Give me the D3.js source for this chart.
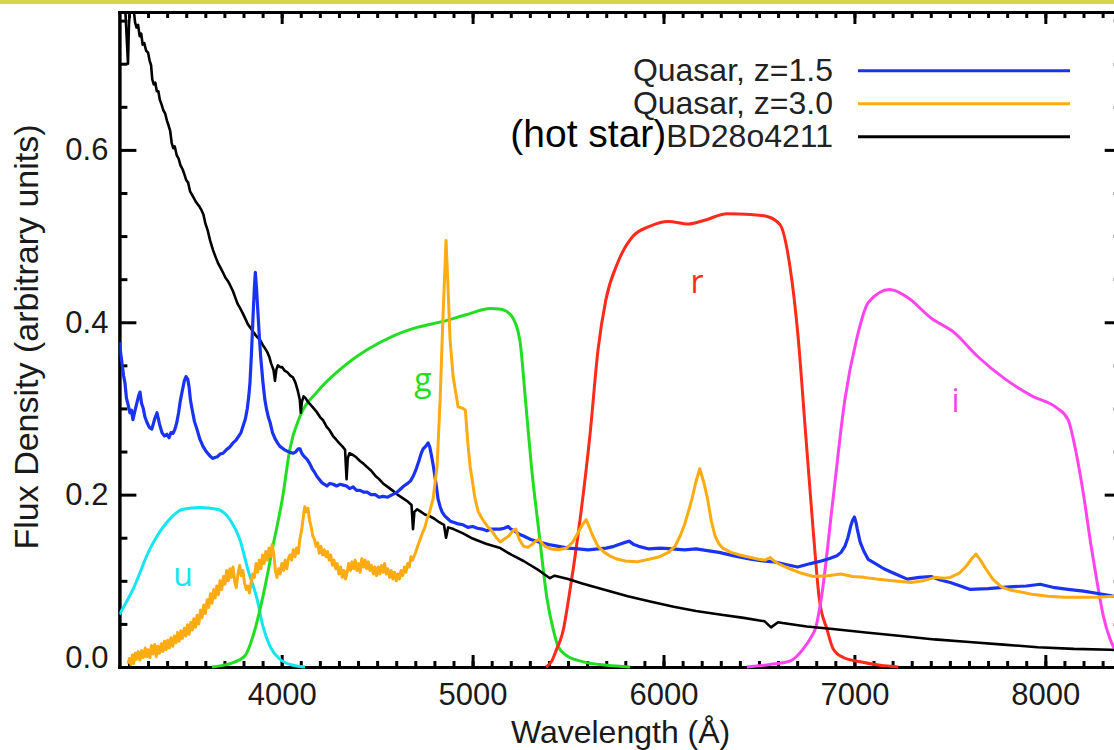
<!DOCTYPE html>
<meta charset="utf-8">
<style>
  body { margin: 0; background: #fff; }
  svg { display: block; font-family: "Liberation Sans", Arial, sans-serif; }
  .axis path, .axis line { stroke: #000; stroke-width: 3; }
  .axis path { stroke-linecap: square; }
  .axis text { font-size: 31px; fill: #1a1a1a; font-family: "Liberation Sans", Arial, sans-serif; }
  .curve { fill: none; stroke-linejoin: round; }
  .flabel { font-family: "Open Sans", sans-serif; font-size: 32px; text-anchor: middle; dominant-baseline: central; }
</style>
<script src="https://d3js.org/d3.v7.min.js"></script>
<svg id="chart" width="1114" height="750"></svg>
<script>

// ---- data: [wavelength (A), flux] ----
var uFilter = [[3150,0.061],[3221,0.09],[3310,0.137],[3399,0.168],[3483,0.183],[3572,0.185],[3661,0.183],[3729,0.171],[3781,0.148],[3823,0.113],[3871,0.079],[3902,0.047],[3939,0.024],[3991,0.009],[4059,0.002],[4122,0]];

var gFilter = [[3635,0],[3745,0.005],[3808,0.013],[3850,0.036],[3902,0.082],[3954,0.14],[4005,0.197],[4043,0.253],[4096,0.291],[4185,0.319],[4305,0.345],[4447,0.368],[4583,0.384],[4709,0.394],[4845,0.401],[4971,0.409],[5092,0.416],[5150,0.415],[5205,0.407],[5247,0.38],[5277,0.31],[5308,0.233],[5348,0.156],[5390,0.079],[5422,0.044],[5448,0.024],[5493,0.013],[5580,0.006],[5703,0.002],[5825,0]];

var rFilter = [[5385,0],[5415,0.007],[5441,0.021],[5467,0.036],[5476,0.044],[5503,0.079],[5554,0.156],[5616,0.272],[5657,0.368],[5698,0.426],[5760,0.469],[5841,0.5],[5924,0.511],[6026,0.517],[6130,0.514],[6211,0.518],[6333,0.526],[6457,0.525],[6538,0.523],[6611,0.513],[6662,0.465],[6703,0.388],[6744,0.272],[6785,0.156],[6816,0.079],[6856,0.044],[6889,0.021],[6942,0.011],[7030,0.006],[7135,0.002],[7230,0]];

var iFilter = [[6437,0],[6559,0.003],[6664,0.007],[6732,0.021],[6777,0.036],[6795,0.044],[6826,0.079],[6888,0.195],[6950,0.31],[7011,0.38],[7073,0.423],[7185,0.438],[7277,0.429],[7401,0.405],[7523,0.388],[7647,0.36],[7790,0.334],[7934,0.314],[8058,0.301],[8119,0.287],[8160,0.25],[8200,0.2],[8240,0.14],[8270,0.1],[8304,0.059],[8340,0.032],[8370,0.018],[8400,0.01]];

var hotStar = [[3150,0.78],[3165,0.77],[3178,0.775],[3186,0.74],[3195,0.70],[3200,0.745],[3208,0.772],[3216,0.76],[3224,0.765],[3232,0.748],[3240,0.742],[3248,0.745],[3256,0.732],[3264,0.735],[3272,0.722],[3280,0.724],[3290,0.715],[3300,0.713],[3308,0.704],[3316,0.698],[3322,0.682],[3330,0.676],[3338,0.678],[3346,0.668],[3354,0.668],[3362,0.658],[3372,0.652],[3380,0.646],[3390,0.642],[3399,0.634],[3408,0.628],[3416,0.622],[3424,0.608],[3432,0.602],[3440,0.604],[3450,0.594],[3460,0.59],[3470,0.582],[3480,0.578],[3490,0.572],[3500,0.565],[3510,0.562],[3520,0.552],[3530,0.548],[3540,0.544],[3550,0.54],[3560,0.537],[3570,0.534],[3580,0.53],[3590,0.525],[3600,0.515],[3612,0.507],[3625,0.495],[3640,0.484],[3655,0.475],[3668,0.468],[3680,0.463],[3692,0.458],[3705,0.452],[3718,0.448],[3730,0.443],[3745,0.436],[3758,0.428],[3770,0.421],[3783,0.416],[3797,0.41],[3810,0.404],[3822,0.398],[3835,0.394],[3848,0.39],[3860,0.386],[3871,0.383],[3885,0.38],[3900,0.374],[3912,0.37],[3923,0.366],[3935,0.36],[3945,0.352],[3957,0.345],[3965,0.332],[3972,0.345],[3980,0.35],[3992,0.348],[4002,0.348],[4015,0.344],[4030,0.342],[4045,0.338],[4059,0.336],[4072,0.33],[4085,0.32],[4095,0.31],[4100,0.295],[4106,0.308],[4115,0.314],[4125,0.312],[4140,0.307],[4160,0.302],[4180,0.297],[4201,0.29],[4218,0.286],[4235,0.279],[4250,0.275],[4269,0.268],[4285,0.264],[4300,0.26],[4318,0.256],[4332,0.252],[4340,0.218],[4346,0.242],[4355,0.248],[4374,0.246],[4392,0.243],[4410,0.239],[4428,0.236],[4447,0.232],[4468,0.228],[4490,0.222],[4510,0.218],[4531,0.213],[4555,0.209],[4580,0.205],[4600,0.201],[4620,0.198],[4640,0.195],[4660,0.192],[4680,0.188],[4688,0.16],[4695,0.18],[4710,0.183],[4730,0.18],[4750,0.177],[4775,0.175],[4800,0.172],[4825,0.168],[4850,0.165],[4861,0.15],[4872,0.162],[4900,0.16],[4950,0.155],[5000,0.149],[5070,0.143],[5145,0.138],[5205,0.13],[5267,0.123],[5348,0.112],[5405,0.103],[5430,0.106],[5500,0.102],[5574,0.097],[5700,0.089],[5813,0.082],[5930,0.076],[6053,0.07],[6170,0.065],[6294,0.061],[6420,0.057],[6530,0.053],[6563,0.046],[6600,0.052],[6624,0.051],[6750,0.047],[6887,0.044],[7060,0.04],[7245,0.036],[7420,0.032],[7601,0.029],[7780,0.026],[7960,0.023],[8150,0.021],[8342,0.02],[8400,0.019]];

var quasar15 = [[3150,0.377],[3158,0.362],[3165,0.35],[3172,0.338],[3179,0.33],[3187,0.312],[3195,0.305],[3205,0.295],[3213,0.298],[3221,0.287],[3230,0.296],[3240,0.305],[3250,0.314],[3258,0.319],[3266,0.306],[3275,0.3],[3284,0.29],[3294,0.284],[3307,0.278],[3320,0.276],[3335,0.288],[3347,0.295],[3360,0.282],[3373,0.272],[3386,0.268],[3399,0.27],[3410,0.266],[3420,0.272],[3431,0.271],[3441,0.276],[3451,0.284],[3460,0.295],[3470,0.31],[3478,0.319],[3490,0.332],[3499,0.337],[3508,0.334],[3515,0.325],[3522,0.31],[3530,0.3],[3543,0.285],[3556,0.276],[3572,0.264],[3588,0.256],[3605,0.25],[3624,0.245],[3638,0.242],[3650,0.243],[3664,0.244],[3677,0.247],[3693,0.248],[3710,0.252],[3727,0.255],[3745,0.26],[3760,0.263],[3775,0.268],[3787,0.272],[3797,0.279],[3810,0.288],[3820,0.3],[3828,0.315],[3834,0.33],[3842,0.365],[3850,0.407],[3857,0.44],[3862,0.458],[3868,0.44],[3876,0.41],[3884,0.38],[3890,0.36],[3896,0.345],[3902,0.33],[3912,0.31],[3920,0.3],[3930,0.29],[3939,0.284],[3952,0.272],[3965,0.265],[3978,0.26],[3991,0.256],[4015,0.252],[4043,0.249],[4060,0.248],[4075,0.25],[4086,0.253],[4096,0.253],[4105,0.248],[4115,0.245],[4133,0.241],[4147,0.236],[4160,0.23],[4172,0.226],[4185,0.221],[4210,0.214],[4237,0.21],[4252,0.213],[4270,0.212],[4288,0.21],[4305,0.212],[4322,0.211],[4340,0.21],[4356,0.207],[4374,0.209],[4392,0.205],[4410,0.205],[4428,0.203],[4447,0.203],[4468,0.2],[4490,0.2],[4510,0.197],[4531,0.198],[4555,0.197],[4580,0.2],[4600,0.202],[4620,0.206],[4640,0.21],[4660,0.213],[4675,0.216],[4688,0.221],[4705,0.23],[4720,0.24],[4731,0.248],[4741,0.253],[4754,0.256],[4767,0.26],[4776,0.255],[4785,0.245],[4793,0.235],[4800,0.225],[4810,0.21],[4819,0.195],[4830,0.186],[4840,0.18],[4855,0.175],[4870,0.172],[4885,0.169],[4900,0.168],[4925,0.166],[4950,0.165],[4975,0.162],[5000,0.163],[5025,0.161],[5050,0.16],[5075,0.158],[5100,0.16],[5145,0.16],[5165,0.161],[5186,0.163],[5200,0.16],[5220,0.158],[5245,0.154],[5267,0.152],[5305,0.148],[5348,0.145],[5400,0.142],[5451,0.14],[5500,0.138],[5553,0.137],[5605,0.136],[5657,0.137],[5700,0.138],[5740,0.14],[5790,0.144],[5820,0.146],[5845,0.142],[5870,0.14],[5924,0.137],[5985,0.138],[6045,0.137],[6110,0.136],[6170,0.137],[6230,0.135],[6291,0.133],[6370,0.129],[6457,0.125],[6520,0.123],[6580,0.122],[6640,0.119],[6703,0.116],[6770,0.12],[6826,0.123],[6870,0.126],[6908,0.129],[6930,0.133],[6950,0.14],[6966,0.15],[6980,0.163],[6990,0.17],[7000,0.174],[7008,0.168],[7015,0.16],[7030,0.145],[7050,0.134],[7072,0.125],[7110,0.12],[7154,0.114],[7215,0.108],[7277,0.102],[7340,0.104],[7401,0.105],[7450,0.101],[7502,0.098],[7555,0.094],[7607,0.09],[7700,0.091],[7811,0.093],[7900,0.094],[7973,0.096],[8050,0.092],[8119,0.09],[8200,0.088],[8283,0.085],[8340,0.083],[8400,0.08]];

var quasar30 = [[3195,0.004],[3203,0.010],[3210,0.003],[3218,0.014],[3225,0.004],[3233,0.016],[3240,0.009],[3248,0.018],[3258,0.008],[3266,0.019],[3275,0.011],[3285,0.022],[3293,0.012],[3300,0.02],[3310,0.011],[3318,0.025],[3326,0.015],[3335,0.026],[3343,0.012],[3352,0.024],[3360,0.016],[3370,0.027],[3378,0.018],[3386,0.03],[3395,0.02],[3403,0.031],[3412,0.022],[3420,0.034],[3430,0.024],[3438,0.036],[3447,0.028],[3455,0.04],[3463,0.03],[3472,0.042],[3480,0.033],[3490,0.045],[3498,0.036],[3507,0.049],[3515,0.038],[3524,0.052],[3532,0.043],[3540,0.056],[3549,0.046],[3557,0.06],[3566,0.05],[3575,0.066],[3583,0.057],[3592,0.072],[3600,0.062],[3610,0.078],[3618,0.069],[3627,0.085],[3635,0.074],[3644,0.09],[3652,0.08],[3660,0.094],[3669,0.084],[3677,0.1],[3686,0.09],[3695,0.105],[3703,0.096],[3712,0.112],[3720,0.1],[3729,0.114],[3737,0.104],[3745,0.116],[3754,0.1],[3762,0.092],[3771,0.108],[3780,0.118],[3788,0.106],[3797,0.112],[3805,0.098],[3814,0.09],[3822,0.094],[3831,0.086],[3840,0.098],[3848,0.108],[3857,0.104],[3866,0.12],[3874,0.11],[3883,0.124],[3891,0.114],[3900,0.13],[3908,0.12],[3917,0.134],[3925,0.124],[3934,0.138],[3942,0.128],[3950,0.142],[3959,0.13],[3967,0.112],[3975,0.104],[3984,0.114],[3992,0.108],[4001,0.12],[4010,0.112],[4018,0.124],[4027,0.114],[4035,0.126],[4044,0.13],[4052,0.124],[4061,0.136],[4070,0.128],[4078,0.138],[4087,0.132],[4095,0.148],[4104,0.158],[4112,0.172],[4121,0.186],[4129,0.18],[4138,0.184],[4146,0.17],[4155,0.162],[4163,0.152],[4172,0.148],[4180,0.14],[4189,0.144],[4197,0.132],[4206,0.14],[4214,0.13],[4223,0.136],[4232,0.128],[4240,0.134],[4249,0.124],[4257,0.13],[4266,0.118],[4274,0.124],[4283,0.114],[4291,0.12],[4300,0.108],[4309,0.116],[4317,0.104],[4326,0.112],[4334,0.102],[4343,0.11],[4351,0.12],[4360,0.112],[4368,0.122],[4377,0.114],[4385,0.124],[4394,0.112],[4402,0.12],[4411,0.11],[4420,0.126],[4428,0.116],[4437,0.124],[4445,0.114],[4454,0.122],[4462,0.112],[4471,0.118],[4480,0.108],[4488,0.116],[4497,0.106],[4505,0.116],[4514,0.108],[4522,0.118],[4531,0.11],[4539,0.12],[4548,0.108],[4556,0.114],[4565,0.104],[4574,0.112],[4582,0.102],[4591,0.11],[4600,0.1],[4608,0.108],[4617,0.102],[4625,0.112],[4634,0.106],[4643,0.116],[4651,0.11],[4660,0.12],[4668,0.116],[4677,0.128],[4685,0.124],[4700,0.132],[4712,0.14],[4725,0.148],[4738,0.156],[4750,0.162],[4762,0.172],[4775,0.18],[4793,0.195],[4814,0.233],[4830,0.31],[4845,0.407],[4861,0.495],[4875,0.42],[4882,0.38],[4898,0.337],[4924,0.302],[4950,0.3],[4962,0.298],[4975,0.26],[4987,0.233],[5013,0.195],[5030,0.18],[5050,0.172],[5075,0.164],[5100,0.158],[5125,0.15],[5145,0.145],[5170,0.149],[5190,0.152],[5210,0.158],[5226,0.16],[5245,0.148],[5267,0.14],[5290,0.139],[5310,0.142],[5330,0.146],[5348,0.148],[5365,0.143],[5380,0.14],[5411,0.137],[5450,0.136],[5493,0.138],[5525,0.145],[5553,0.156],[5575,0.165],[5595,0.171],[5612,0.162],[5630,0.152],[5657,0.14],[5690,0.133],[5718,0.129],[5760,0.125],[5800,0.123],[5860,0.122],[5924,0.125],[5980,0.128],[6026,0.133],[6060,0.14],[6087,0.152],[6110,0.165],[6130,0.18],[6149,0.195],[6170,0.215],[6190,0.23],[6210,0.215],[6231,0.195],[6250,0.17],[6270,0.152],[6290,0.143],[6310,0.138],[6354,0.133],[6400,0.13],[6457,0.127],[6500,0.125],[6530,0.124],[6559,0.127],[6580,0.123],[6600,0.12],[6630,0.117],[6662,0.114],[6720,0.109],[6785,0.105],[6860,0.106],[6929,0.108],[6991,0.105],[7050,0.104],[7114,0.102],[7200,0.1],[7298,0.098],[7360,0.1],[7421,0.104],[7470,0.103],[7502,0.104],[7550,0.109],[7586,0.117],[7612,0.125],[7637,0.131],[7660,0.124],[7688,0.114],[7725,0.102],[7769,0.093],[7820,0.089],[7872,0.087],[7940,0.084],[8015,0.082],[8100,0.081],[8180,0.081],[8270,0.081],[8361,0.082],[8400,0.08]];

var xMajor = [4000, 5000, 6000, 7000, 8000];
var xMinor = d3.range(3200, 8401, 100);
var yMajor = [0, 0.2, 0.4, 0.6];
var yMinor = [0.05, 0.1, 0.15, 0.25, 0.3, 0.35, 0.45, 0.5, 0.55, 0.65, 0.7, 0.75];

var filterLabels = [["u", 3483, 0.109, "#16e4ee"], ["g", 4740, 0.335, "#22dd22"], ["r", 6176, 0.449, "#ff2a1a"], ["i", 7530, 0.31, "#ff44ee"]];
var legendItems = [["Quasar, z=1.5", "#1a33f0"], ["Quasar, z=3.0", "#fdab12"], ["BD28o4211", "#000"]];

// ---- chart ----
var svg = d3.select("#chart"),
  width = +svg.attr("width"),
  height = +svg.attr("height");

var x = d3.scaleLinear().domain([3150, 8400]).range([119.4, 1121.7]);
var y = d3.scaleLinear().domain([0, 0.76]).range([667, 12]);

// yellow strip at the top
svg.append("rect").attr("x", 0).attr("y", 0).attr("width", width).attr("height", 4).attr("fill", "#d6d34c");

svg.append("clipPath").attr("id", "plotclip")
  .append("rect").attr("x", x(3150)).attr("y", y(0.76)).attr("width", x(8400) - x(3150)).attr("height", y(0) - y(0.76) + 3);

// axes: bottom
svg.append("g").attr("class", "axis").attr("transform", "translate(0," + y(0) + ")")
  .call(d3.axisBottom(x).tickValues(xMinor).tickSize(-6).tickSizeOuter(0).tickFormat(""));
svg.append("g").attr("class", "axis").attr("transform", "translate(0," + y(0) + ")")
  .call(d3.axisBottom(x).tickValues(xMajor).tickSize(-12).tickSizeOuter(0).tickPadding(16).tickFormat(d3.format("d")));
// top
svg.append("g").attr("class", "axis").attr("transform", "translate(0," + y(0.76) + ")")
  .call(d3.axisTop(x).tickValues(xMinor).tickSize(-6).tickSizeOuter(0).tickFormat(""));
svg.append("g").attr("class", "axis").attr("transform", "translate(0," + y(0.76) + ")")
  .call(d3.axisTop(x).tickValues(xMajor).tickSize(-12).tickSizeOuter(0).tickFormat(""));
// left
svg.append("g").attr("class", "axis").attr("transform", "translate(" + x(3150) + ",0)")
  .call(d3.axisLeft(y).tickValues(yMinor).tickSize(-8).tickSizeOuter(0).tickFormat(""));
var yAx = svg.append("g").attr("class", "axis").attr("transform", "translate(" + x(3150) + ",0)")
  .call(d3.axisLeft(y).tickValues(yMajor).tickSize(-17).tickSizeOuter(0).tickPadding(11).tickFormat(d3.format(".1f")));
yAx.selectAll(".tick text").filter(function(d) { return d === 0; }).attr("dy", "0.0em");
// right
svg.append("g").attr("class", "axis").attr("transform", "translate(" + x(8400) + ",0)")
  .call(d3.axisRight(y).tickValues(yMinor).tickSize(-8).tickSizeOuter(0).tickFormat(""));
svg.append("g").attr("class", "axis").attr("transform", "translate(" + x(8400) + ",0)")
  .call(d3.axisRight(y).tickValues(yMajor).tickSize(-17).tickSizeOuter(0).tickFormat(""));

// axis titles
svg.append("text")
  .attr("x", (x(3150) + x(8400)) / 2).attr("y", 743)
  .attr("text-anchor", "middle").attr("font-size", 32).attr("fill", "#1a1a1a")
  .text("Wavelength (Å)");
svg.append("text")
  .attr("transform", "translate(38," + 337 + ") rotate(-90)")
  .attr("text-anchor", "middle").attr("font-size", 34).attr("fill", "#1a1a1a")
  .text("Flux Density (arbitrary units)");

// curves
var smooth = d3.line().x(function(d) { return x(d[0]); }).y(function(d) { return y(d[1]); }).curve(d3.curveMonotoneX);
var jagged = d3.line().x(function(d) { return x(d[0]); }).y(function(d) { return y(d[1]); });

var plot = svg.append("g").attr("clip-path", "url(#plotclip)");

[[uFilter, "#16e4ee"], [gFilter, "#22dd22"], [rFilter, "#ff2a1a"], [iFilter, "#ff44ee"]].forEach(function(f) {
  plot.append("path").attr("class", "curve").attr("d", smooth(f[0]))
    .attr("stroke", f[1]).attr("stroke-width", 3);
});

plot.append("path").attr("class", "curve").attr("d", jagged(hotStar)).attr("stroke", "#000").attr("stroke-width", 2.6);
plot.append("path").attr("class", "curve").attr("d", jagged(quasar15)).attr("stroke", "#1a33f0").attr("stroke-width", 3.2);
plot.append("path").attr("class", "curve").attr("d", jagged(quasar30)).attr("stroke", "#fdab12").attr("stroke-width", 3);

// filter letters
svg.selectAll("text.flabel")
  .data(filterLabels)
  .enter().append("text")
    .attr("class", "flabel")
    .attr("x", function(d) { return x(d[1]); })
    .attr("y", function(d) { return y(d[2]); })
    .attr("fill", function(d) { return d[3]; })
    .text(function(d) { return d[0]; });

// legend
var legend = svg.selectAll("g.legend")
  .data(legendItems)
  .enter().append("g")
  .attr("class", "legend");

legend.append("line")
  .attr("x1", 858).attr("x2", 1070)
  .attr("y1", function(d, i) { return 70.7 + i * 33; })
  .attr("y2", function(d, i) { return 70.7 + i * 33; })
  .attr("stroke", function(d) { return d[1]; })
  .attr("stroke-width", 3);

var lt = legend.append("text")
  .attr("x", 833)
  .attr("y", function(d, i) { return 80.5 + i * 33; })
  .attr("text-anchor", "end")
  .attr("font-size", 32)
  .attr("fill", "#222");
lt.filter(function(d, i) { return i === 2; })
  .append("tspan").attr("font-size", 39).attr("fill", "#000").text("(hot star)");
lt.append("tspan").text(function(d) { return d[0]; });

</script>
